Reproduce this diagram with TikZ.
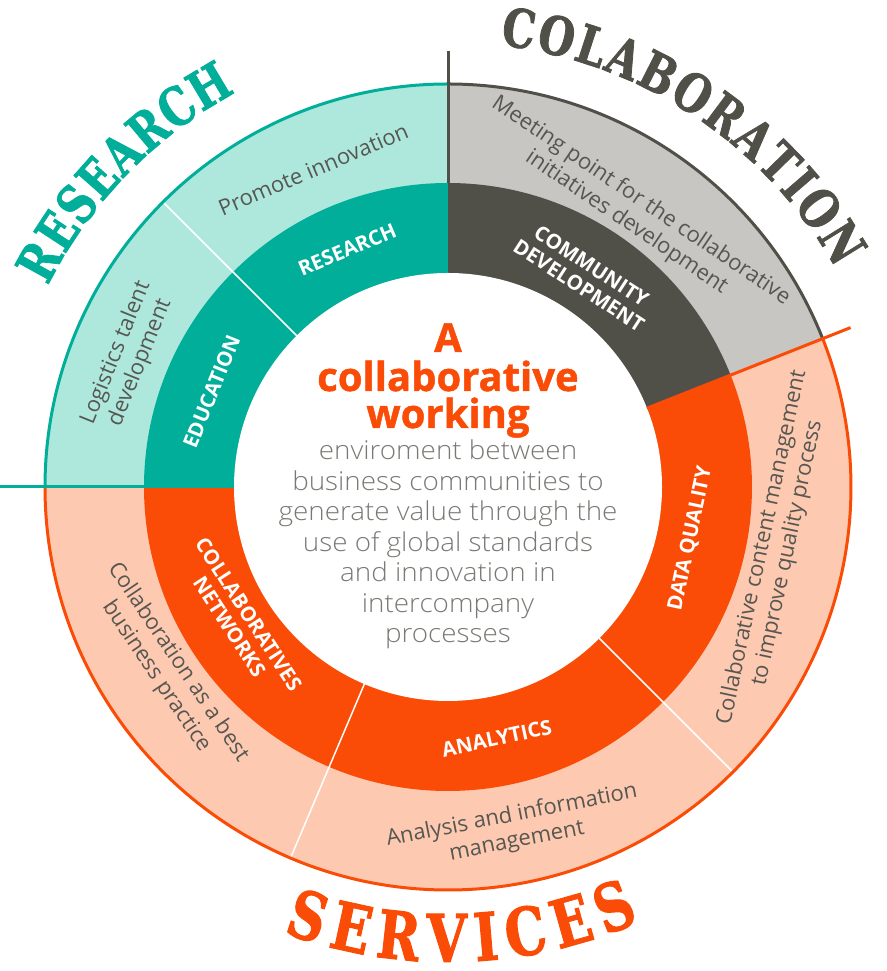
\documentclass[tikz,border=0pt]{standalone}
\usepackage{fontspec}
\usepackage{tikz}
\usetikzlibrary{calc}
\usetikzlibrary{decorations.text}

\setmainfont{Open Sans}
\newfontfamily\lightfont[FakeStretch=1.07]{Open Sans Light}
\newfontfamily\headfont[FakeBold=1.2]{Open Sans}
\newfontfamily\slabfont[FakeStretch=0.78, FakeBold=1.5]{DejaVu Serif}

\definecolor{tealdark}{RGB}{0,174,154}
\definecolor{teallight}{RGB}{174,232,221}
\definecolor{graydark}{RGB}{80,80,72}
\definecolor{graylight}{RGB}{200,198,194}
\definecolor{orangedark}{RGB}{250,76,6}
\definecolor{orangelight}{RGB}{253,202,177}
\definecolor{textgray}{RGB}{87,87,82}
\definecolor{descgray}{RGB}{122,122,117}

\begin{document}
\begin{tikzpicture}[x=1pt,y=1pt,
    inlabel/.style={text=white, font=\fontsize{20.5}{23}\selectfont\bfseries, align=center},
    outlabel/.style={text=textgray, font=\fontsize{22}{26}\selectfont, align=center},
    desc/.style={text=descgray, font=\fontsize{26}{30}\selectfont\lightfont, anchor=base},
    head/.style={text=orangedark, font=\fontsize{40}{40}\selectfont\headfont\bfseries, anchor=base},
    divider/.style={white, line width=1.5pt},
    rim/.style={line width=3pt}]
  \useasboundingbox (0,0) rectangle (886,971);
  \coordinate (O) at (448,484);

  \fill[teallight] (O) -- ([shift={(90:403)}]O) arc[start angle=90, end angle=180, radius=403] -- cycle;
  \fill[graylight] (O) -- ([shift={(21.6:403)}]O) arc[start angle=21.6, end angle=90, radius=403] -- cycle;
  \fill[orangelight] (O) -- ([shift={(180:403)}]O) arc[start angle=180, end angle=381.6, radius=403] -- cycle;
  \fill[tealdark] (O) -- ([shift={(90:304)}]O) arc[start angle=90, end angle=180, radius=304] -- cycle;
  \fill[graydark] (O) -- ([shift={(21.6:304)}]O) arc[start angle=21.6, end angle=90, radius=304] -- cycle;
  \fill[orangedark] (O) -- ([shift={(180:304)}]O) arc[start angle=180, end angle=381.6, radius=304] -- cycle;
  \fill[white] (O) circle[radius=214];

  \foreach \a in {135,247,315}
    \draw[divider] ([shift={(\a:214)}]O) -- ([shift={(\a:403)}]O);

  \draw[rim, tealdark] ([shift={(90:403)}]O) arc[start angle=90, end angle=180, radius=403];
  \draw[rim, graydark] ([shift={(21.6:403)}]O) arc[start angle=21.6, end angle=90, radius=403];
  \draw[rim, orangedark] ([shift={(180:403)}]O) arc[start angle=180, end angle=381.6, radius=403];
  \draw[rim, tealdark] ([shift={(180:448)}]O) -- ([shift={(180:214)}]O);
  \draw[rim, graydark] ([shift={(90:436)}]O) -- ([shift={(90:304)}]O);
  \draw[rim, orangedark] ([shift={(21.6:433)}]O) -- ([shift={(21.6:214)}]O);

  \path[decorate, decoration={text along path, text align={fit to path}, text color=tealdark,
      text={|\slabfont\bfseries\fontsize{53}{53}\selectfont|RESEARCH}}]
    ([shift={(153.3:448)}]O) arc[start angle=153.3, end angle=118.3, radius=448];
  \path[decorate, decoration={text along path, text align={fit to path}, text color=graydark,
      text={|\slabfont\bfseries\fontsize{53}{53}\selectfont|COLABORATION}}]
    ([shift={(83.3:445)}]O) arc[start angle=83.3, end angle=29.4, radius=445];
  \path[decorate, decoration={text along path, text align={fit to path}, text color=orangedark,
      text={|\slabfont\bfseries\fontsize{66}{66}\selectfont|SERVICES}}]
    ([shift={(249.7:475)}]O) arc[start angle=249.7, end angle=293.8, radius=475];

  \node[inlabel, rotate=23] (research) at ([shift={(113:258)}]O) {RESEARCH};
  \node[inlabel, rotate=68] (education) at ([shift={(158:255)}]O) {EDUCATION};
  \node[inlabel, rotate=-33] (community) at ([shift={(57:252)}]O) {COMMUNITY\\DEVELOPMENT};
  \node[inlabel, rotate=78] (dataquality) at ([shift={(-12:248)}]O) {DATA QUALITY};
  \node[inlabel, rotate=12] (analytics) at ([shift={(-79:256)}]O) {ANALYTICS};
  \node[inlabel, rotate=-57] (networks) at ([shift={(212.6:248)}]O) {COLLABORATIVES\\NETWORKS};

  \node[outlabel, rotate=23] (promote) at ([shift={(113:345)}]O) {Promote innovation};
  \node[outlabel, rotate=68] (talent) at ([shift={(158:345)}]O) {Logistics talent\\development};
  \node[outlabel, rotate=-34] (meeting) at ([shift={(56:332)}]O) {Meeting point for the collaborative\\initiatives development};
  \node[outlabel, rotate=78] (content) at ([shift={(-11:333)}]O) {Collaborative content management\\to improve quality process};
  \node[outlabel, rotate=11] (analysis) at ([shift={(-79:348)}]O) {Analysis and information\\management};
  \node[outlabel, rotate=-56] (practice) at ([shift={(213:335)}]O) {Collaboration as a best\\business practice};

  \node[head] (headA) at (448,619) {A};
  \node[head] (headcollab) at (448,580) {collaborative};
  \node[head] (headworking) at (448,543) {working};
  \foreach \line [count=\i] in {enviroment between, business communities to, generate value through the,
      use of global standards, and innovation in, intercompany, processes}
    \node[desc] (desc\i) at (448, 541.5-30.5*\i) {\line};
\end{tikzpicture}
\end{document}
